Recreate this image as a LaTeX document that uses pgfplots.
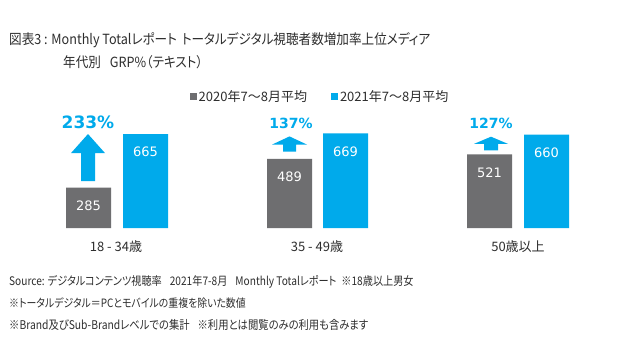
\documentclass[border=0pt]{standalone}
\usepackage{fontspec}
\setmainfont{Noto Sans CJK JP}[RawFeature=+palt]
\newfontfamily\jpn{Noto Sans CJK JP}[FakeStretch=0.86, RawFeature=+palt]
\newfontfamily\jpt{Noto Sans CJK JP}[FakeStretch=0.9, RawFeature=+palt]
\newfontfamily\dv{DejaVu Sans}
\usepackage{pgfplots}
\pgfplotsset{compat=1.18}
\definecolor{cgray}{RGB}{110,110,112}
\definecolor{cblue}{RGB}{0,170,235}
\definecolor{ctext}{RGB}{45,45,45}
\pgfplotsset{sqlegend/.style={legend image code/.code={\fill[##1] (0pt,-3.5pt) rectangle (7pt,3.5pt);}}}
\begin{document}
\begin{tikzpicture}[x=1pt,y=1pt]
\path[fill=white] (0,0) rectangle (640,360);
\node[anchor=west, inner sep=0pt, text=ctext, font=\jpt\fontsize{14}{16}\selectfont] at (9,320) {図表3 : Monthly Totalレポート\hspace{5pt}トータルデジタル視聴者数増加率上位メディア};
\node[anchor=west, inner sep=0pt, text=ctext, font=\jpt\fontsize{14}{16}\selectfont] at (63,298) {年代別\hspace{9pt}GRP\%（テキスト）};
\begin{axis}[
  at={(0pt,132pt)}, anchor=south west, scale only axis,
  width=640pt, height=113.08pt,
  xmin=0, xmax=640, ymin=0, ymax=800,
  axis line style={draw=none}, major tick length=0pt,
  ytick=\empty,
  xtick={116,317,518},
  xticklabels={18 - 34歳, 35 - 49歳, 50歳以上},
  xticklabel style={font=\fontsize{13}{15}\selectfont, text=ctext, anchor=center, yshift=-19pt},
  ybar, bar width=45pt, bar shift=0pt,
  clip=false,
  /pgf/number format/assume math mode=true,
  sqlegend,
  legend columns=2,
  legend style={draw=none, fill=none, at={(0.5,1.16)}, anchor=center,
    font=\fontsize{13}{15}\selectfont, text=ctext,
    /tikz/every even column/.append style={column sep=22pt}},
  nodes near coords,
  every node near coord/.append style={text=white, font=\dv\fontsize{13}{15}\selectfont, anchor=center, yshift=-18pt},
]
\addplot[fill=cgray, draw=none] coordinates {(88.5,285) (289.5,489) (489.5,521)};
\addlegendentry{2020年7〜8月平均}
\addplot[fill=cblue, draw=none] coordinates {(145.5,665) (345.5,669) (546.5,660)};
\addlegendentry{2021年7〜8月平均}
% growth arrows
\fill[cblue] (axis cs:81,332) -- (axis cs:81,530) -- (axis cs:71,530) -- (axis cs:88,665) -- (axis cs:105,530) -- (axis cs:95,530) -- (axis cs:95,332) -- cycle;
\fill[cblue] (axis cs:283,540) -- (axis cs:283,590) -- (axis cs:272,590) -- (axis cs:289.5,648) -- (axis cs:307,590) -- (axis cs:296,590) -- (axis cs:296,540) -- cycle;
\fill[cblue] (axis cs:484,550) -- (axis cs:484,595) -- (axis cs:474,595) -- (axis cs:491,646) -- (axis cs:508,595) -- (axis cs:498,595) -- (axis cs:498,550) -- cycle;
\node[text=cblue, font=\dv\bfseries\fontsize{17}{19}\selectfont] at (axis cs:88,750) {233\%};
\node[text=cblue, font=\dv\bfseries\fontsize{14}{16}\selectfont] at (axis cs:291,743) {137\%};
\node[text=cblue, font=\dv\bfseries\fontsize{14}{16}\selectfont] at (axis cs:491,743) {127\%};
\end{axis}
\node[anchor=west, inner sep=0pt, text=ctext, font=\jpn\fontsize{11.8}{14}\selectfont] at (9,78) {Source: デジタルコンテンツ視聴率\hspace{8pt}2021年7-8月\hspace{8pt}Monthly Totalレポート\hspace{5pt}※18歳以上男女};
\node[anchor=west, inner sep=0pt, text=ctext, font=\jpn\fontsize{11.5}{14}\selectfont] at (9,57) {※トータルデジタル＝PCとモバイルの重複を除いた数値};
\node[anchor=west, inner sep=0pt, text=ctext, font=\jpn\fontsize{12}{14}\selectfont] at (9,35) {※Brand及びSub-Brandレベルでの集計\hspace{8pt}※利用とは閲覧のみの利用も含みます};
\end{tikzpicture}
\end{document}
